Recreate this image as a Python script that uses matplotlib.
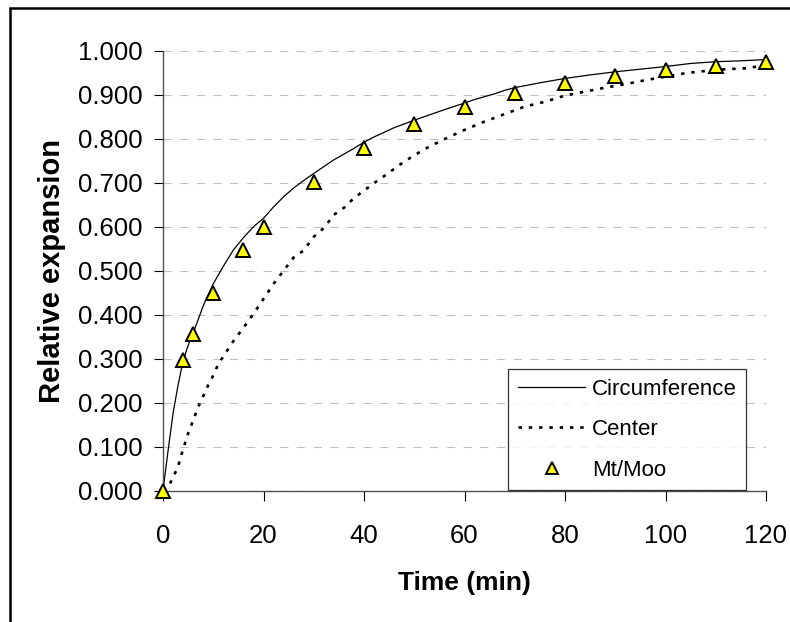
import matplotlib
matplotlib.use("Agg")
import matplotlib.pyplot as plt
from matplotlib.patches import Rectangle

plt.rcParams['font.family'] = ['Liberation Sans', 'DejaVu Sans']

# Expansion measured at the circumference of the sample (solid line)
circ_t = [0, 1, 2, 3, 4, 5, 6, 8, 10, 12, 14, 16, 18, 20, 22, 24, 26, 28, 30,
          34, 38, 40, 42, 46, 50, 52, 56, 60, 62, 66, 68, 70, 75, 80, 85, 90,
          95, 100, 105, 110, 115, 120]
circ_v = [0.000, 0.090, 0.176, 0.240, 0.295, 0.330, 0.358, 0.420, 0.470, 0.510,
          0.547, 0.575, 0.600, 0.619, 0.645, 0.668, 0.688, 0.705, 0.721,
          0.752, 0.778, 0.792, 0.804, 0.825, 0.842, 0.850, 0.866, 0.881, 0.889,
          0.902, 0.910, 0.916, 0.927, 0.937, 0.945, 0.952, 0.958, 0.964, 0.971,
          0.975, 0.977, 0.980]

# Expansion measured at the center of the sample (dotted line)
center_t = [0, 1, 2, 3, 4, 5, 6, 7, 8, 9, 10, 11, 12, 14, 16, 18, 20, 22, 24,
            26, 28, 30, 32, 34, 36, 38, 42, 44, 48, 52, 56, 60, 64, 68, 72, 76,
            80, 84, 88, 92, 96, 100, 104, 108, 112, 116, 120]
center_v = [0.000, 0.008, 0.030, 0.055, 0.095, 0.130, 0.160, 0.190, 0.215,
            0.240, 0.262, 0.288, 0.305, 0.340, 0.370, 0.402, 0.436, 0.470,
            0.500, 0.530, 0.546, 0.577, 0.597, 0.627, 0.643, 0.665, 0.699,
            0.715, 0.748, 0.776, 0.799, 0.820, 0.839, 0.856, 0.873, 0.884,
            0.898, 0.907, 0.916, 0.924, 0.933, 0.941, 0.949, 0.954, 0.958,
            0.960, 0.967]

# Mt/Moo ratio at the sampling times (triangles)
mt_t = [0, 4, 6, 10, 16, 20, 30, 40, 50, 60, 70, 80, 90, 100, 110, 120]
mt_v = [0.000, 0.298, 0.356, 0.449, 0.547, 0.600, 0.702, 0.780, 0.833, 0.873,
        0.905, 0.926, 0.943, 0.956, 0.966, 0.974]

x_ticks = [0, 20, 40, 60, 80, 100, 120]
y_ticks = [0.0, 0.1, 0.2, 0.3, 0.4, 0.5, 0.6, 0.7, 0.8, 0.9, 1.0]

W, H = 790, 622
fig = plt.figure(figsize=(W / 100, H / 100), dpi=100)
ax = fig.add_axes([163 / W, (H - 490.7) / H, (766 - 163) / W, 440 / H])

# outer chart frame (runs off the right and bottom edges)
fig.patches.append(Rectangle((10 / W, -0.5), 2.0, 0.5 + (H - 8) / H,
                             transform=fig.transFigure, fill=False,
                             edgecolor='black', linewidth=1.8))

ax.plot(circ_t, circ_v, color='black', linewidth=0.9, label='Circumference')
ax.plot(center_t, center_v, color='black', linewidth=1.9,
        linestyle=(0, (1.3, 2.6)), label='Center')
ax.plot(mt_t, mt_v, linestyle='none', marker='^', markersize=10,
        markerfacecolor='#FFFF00', markeredgecolor='black',
        markeredgewidth=1.4, label='Mt/Moo', clip_on=False, zorder=5)

ax.set_xlim(0, 120)
ax.set_ylim(0, 1.0)
ax.set_xticks(x_ticks)
ax.set_yticks(y_ticks)
ax.set_yticklabels([f"{v:.3f}" for v in y_ticks])

ax.yaxis.grid(True, color='#C0C0C0', linewidth=0.8, linestyle=(0, (7.5, 7.5)))
ax.set_axisbelow(True)

for side in ('top', 'right'):
    ax.spines[side].set_visible(False)
for side in ('left', 'bottom'):
    ax.spines[side].set_color('#505050')
    ax.spines[side].set_linewidth(1.0)

ax.tick_params(axis='y', direction='out', length=6.5, width=0.8,
               color='black', labelsize=18.5, pad=8.5)
ax.tick_params(axis='x', direction='out', length=7.2, width=0.8,
               color='black', labelsize=18.5, pad=17)

ax.set_xlabel('Time (min)', fontsize=19, fontweight='bold')
ax.set_ylabel('Relative expansion', fontsize=21, fontweight='bold')
ax.xaxis.set_label_coords(0.5, (490.7 - 571) / 440)
ax.yaxis.set_label_coords((66 - 163) / 603, 0.5)

leg = ax.legend(loc='upper left', bbox_to_anchor=(508.3 / W, (H - 369.3) / H),
                bbox_transform=fig.transFigure, borderaxespad=0,
                fontsize=16, frameon=True, fancybox=False, shadow=False,
                handlelength=3.05, handletextpad=0.3, labelspacing=0.88,
                borderpad=0.42, markerscale=0.8)
leg.get_frame().set_edgecolor('black')
leg.get_frame().set_linewidth(0.9)

fig.savefig('out.png', dpi=100)
